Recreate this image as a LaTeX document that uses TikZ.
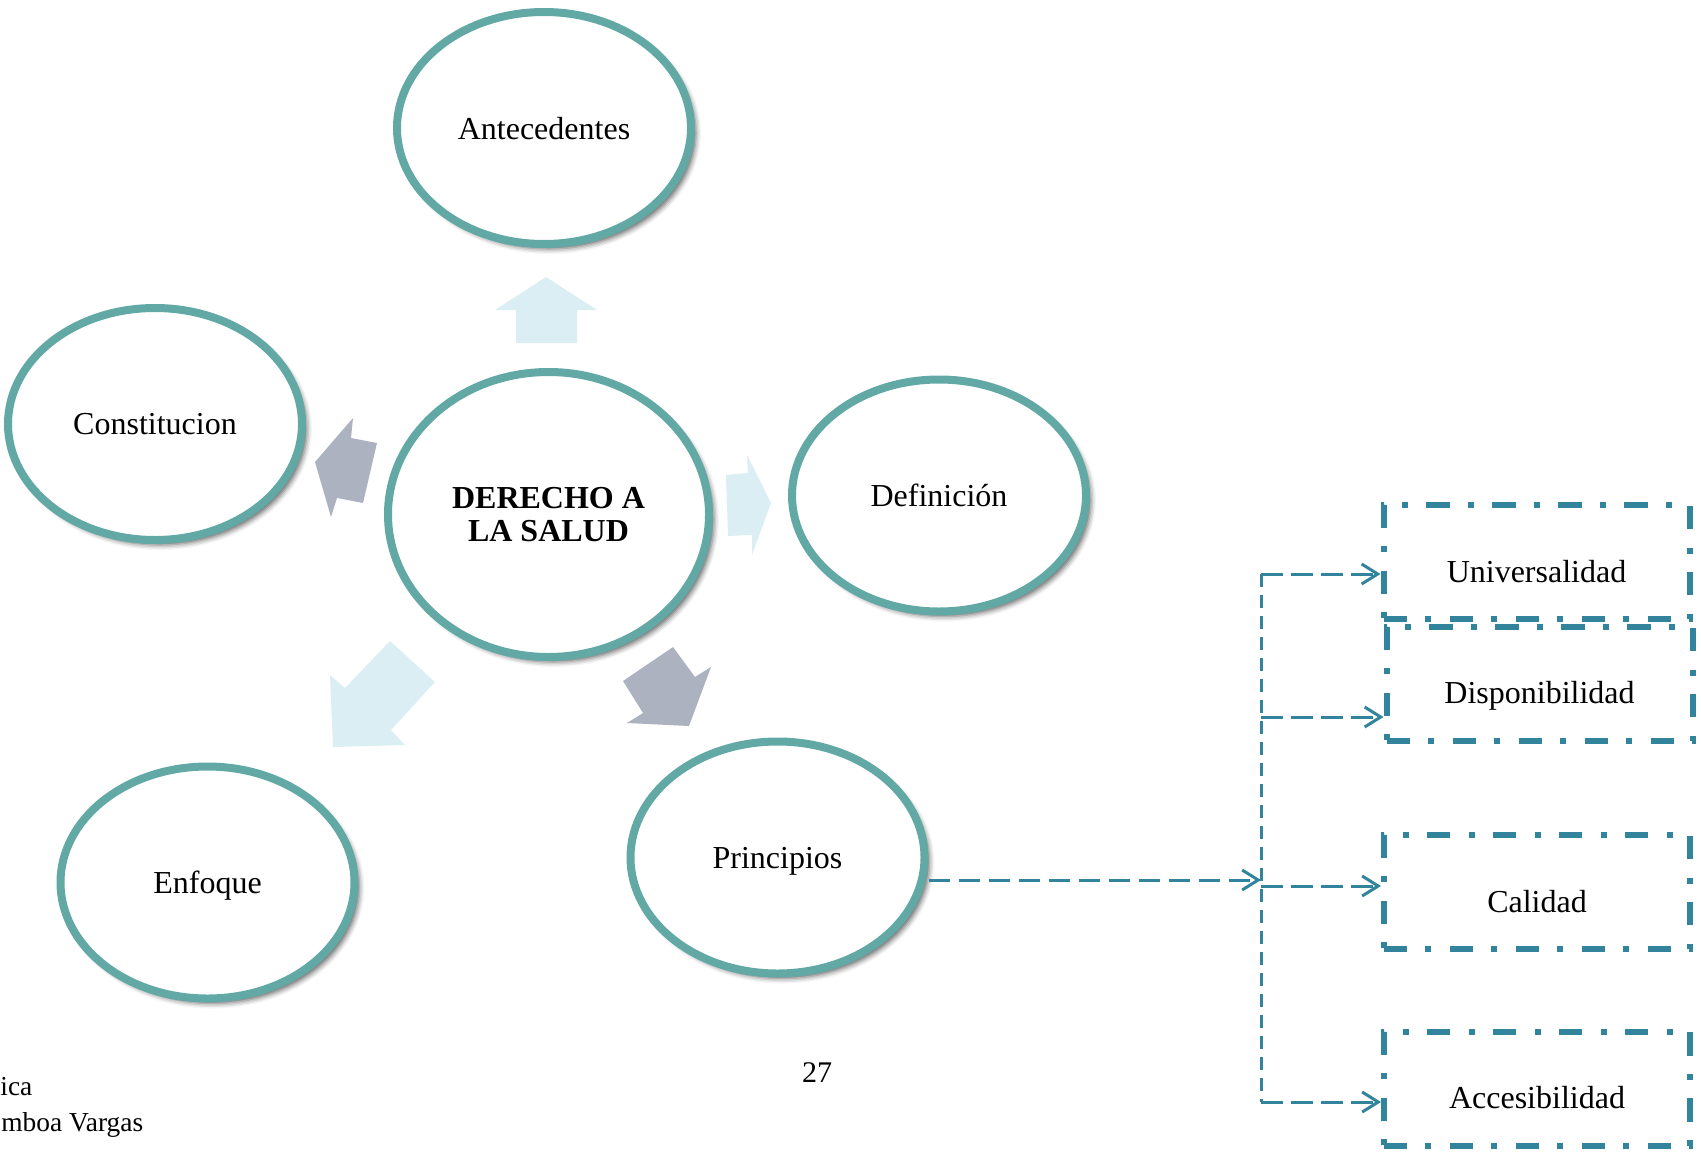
\documentclass[tikz,border=0pt]{standalone}
\usepackage{fontspec}
\setmainfont{Liberation Serif}
\usetikzlibrary{shapes.geometric,arrows.meta,shadows.blur}
\definecolor{ringc}{HTML}{62A8A5}
\definecolor{linec}{HTML}{31849B}
\definecolor{lblue}{HTML}{DAEEF3}
\definecolor{lgray}{HTML}{ACB2C0}
\begin{document}
\begin{tikzpicture}[x=0.5pt,y=-0.5pt,
  oval/.style={ellipse, draw=ringc, line width=4pt, fill=white,
    minimum width=147pt, minimum height=116pt, inner sep=0pt,
    font=\fontsize{16}{19}\selectfont, text depth=0pt,
    blur shadow={shadow xshift=2.5pt, shadow yshift=-2.5pt, shadow blur radius=2.5pt, shadow opacity=60}},
  bigoval/.style={oval, minimum width=160.5pt, minimum height=142.5pt,
    font=\fontsize{16}{16.5}\selectfont\bfseries, align=center},
  pbox/.style={rectangle, draw=linec, line width=3pt, minimum width=153pt,
    minimum height=57pt, inner sep=0pt, dash pattern=on 11.7pt off 9pt on 3pt off 9.3pt},
  btext/.style={font=\fontsize{16}{19}\selectfont, inner sep=0pt, anchor=base},
  hconn/.style={draw=linec, line width=1.5pt, dash pattern=on 10.8pt off 4.2pt},
  vconn/.style={draw=linec, line width=1.5pt, dash pattern=on 6.5pt off 4pt},
  tipped/.style={-{Straight Barb[length=8pt,width=10pt]}},
  lightarrow/.style={fill=lblue},
  grayarrow/.style={fill=lgray},
  foot/.style={inner sep=0pt, anchor=base west, font=\fontsize{13.7}{16}\selectfont},
]
\useasboundingbox (0,0) rectangle (1701,1151);
\begin{scope}
\clip (0,0) rectangle (1701,1151);

% block arrows
\fill[lightarrow] (546,277) -- (597,310) -- (577,310) -- (577,343) -- (516,343) -- (516,310) -- (495,310) -- cycle;
\fill[lightarrow] (726,475) -- (748,473) -- (747,455) -- (771,503) -- (752,555) -- (752,535) -- (728,536) -- cycle;
\fill[grayarrow] (315,462) -- (353,418) -- (351,438) -- (377,443) -- (363,503) -- (337,498) -- (331,517) -- cycle;
\fill[lightarrow] (390,641) -- (435,682) -- (391,730) -- (405,745) -- (333,747) -- (330,675) -- (345,688) -- cycle;
\fill[grayarrow] (623,681) -- (673,647) -- (695,677) -- (711,667) -- (689,726) -- (627,723) -- (643,713) -- cycle;

% ellipses
\node[oval] (ante) at (544,128) {Antecedentes};
\node[oval] (const) at (155,424) {Constitucion};
\node[bigoval] (der) at (548.5,514.5) {DERECHO A\\LA SALUD};
\node[oval] (def) at (939,495.5) {Definición};
\node[oval] (prin) at (777.5,857.5) {Principios};
\node[oval] (enf) at (207.5,882.5) {Enfoque};

% boxes
\node[pbox] (univ) at (1536.5,562) {};
\node[btext] (univt) at ([yshift=-10pt]univ.center) {Universalidad};
\node[pbox] (disp) at (1539.5,684) {};
\node[btext] (dispt) at ([yshift=-9.5pt]disp.center) {Disponibilidad};
\node[pbox] (cal) at (1537,892) {};
\node[btext] (calt) at ([yshift=-10pt]cal.center) {Calidad};
\node[pbox] (acc) at (1537,1088.5) {};
\node[btext] (acct) at ([yshift=-9.75pt]acc.center) {Accesibilidad};

% connectors
\coordinate (jP) at (1261,880);
\coordinate (jT) at (1261,574);
\coordinate (jD) at (1261,717);
\coordinate (jC) at (1261,886);
\coordinate (jB) at (1261,1102);
\draw[hconn,tipped] (prin.east |- jP) -- (jP);
\draw[vconn] (jT) -- (jB);
\draw[hconn,tipped] (jT) -- (univ.west |- jT);
\draw[hconn,tipped] (jD) -- (disp.west |- jD);
\draw[hconn,tipped] (jC) -- (cal.west |- jC);
\draw[hconn,tipped] (jB) -- (acc.west |- jB);

% footer
\node[foot] (f1) at (0,1095) {ica};
\node[foot] (f2) at (1,1131) {mboa Vargas};
\node[inner sep=0pt, anchor=base, font=\fontsize{15}{18}\selectfont] (pg) at (817,1082) {27};
\end{scope}
\end{tikzpicture}
\end{document}
